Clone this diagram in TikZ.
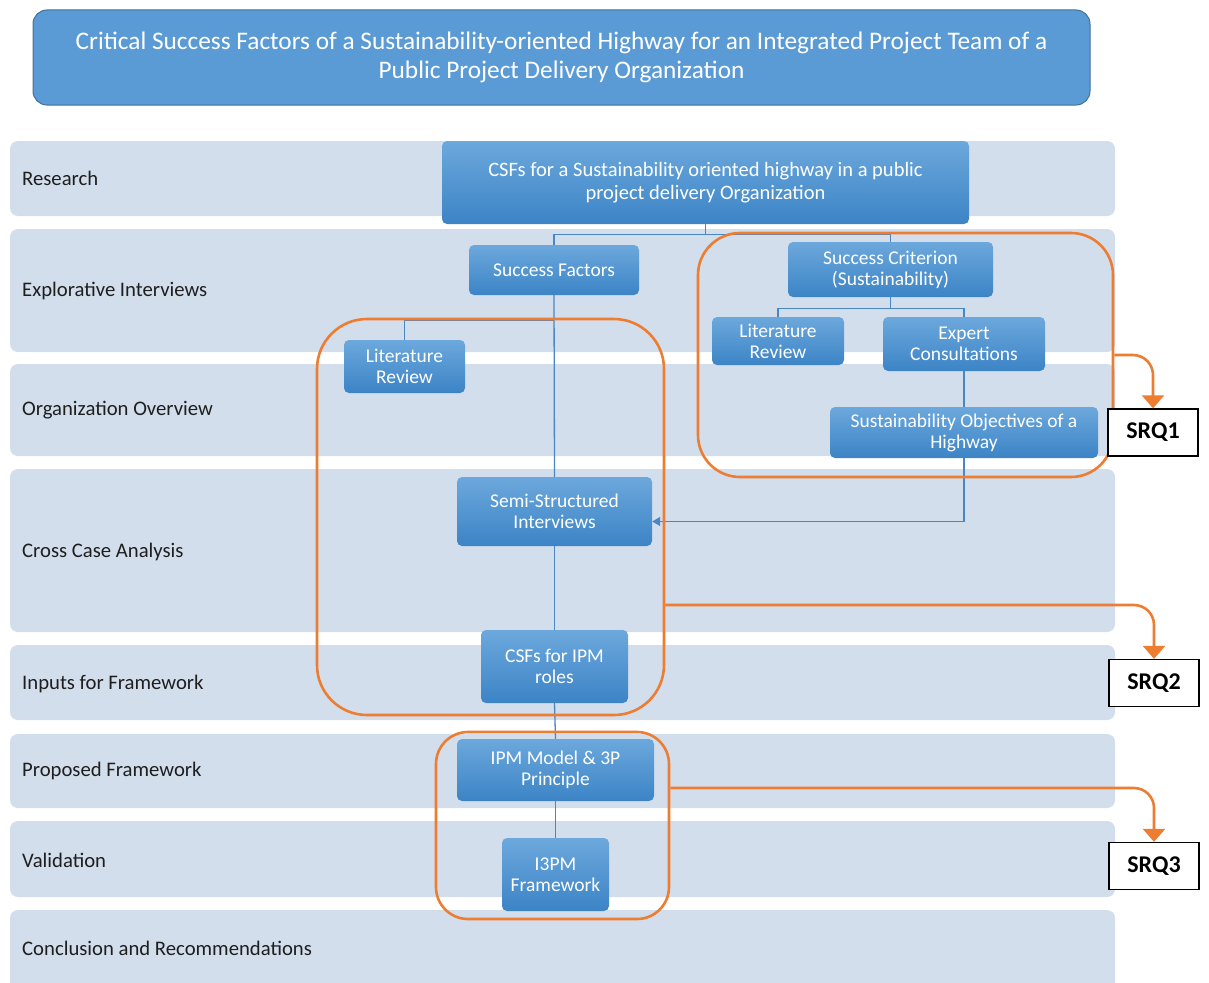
\documentclass[tikz,border=0pt]{standalone}
\usepackage{fontspec}
\setmainfont{Carlito}
\usetikzlibrary{arrows.meta,calc}
\definecolor{lanefill}{RGB}{211,222,236}
\definecolor{titlefill}{RGB}{91,155,213}
\definecolor{titleline}{RGB}{65,113,156}
\definecolor{nodetop}{RGB}{108,168,220}
\definecolor{nodebot}{RGB}{60,132,198}
\definecolor{connblue}{RGB}{74,134,193}
\definecolor{accent}{RGB}{237,125,49}
\definecolor{labeltext}{RGB}{30,30,30}
\tikzset{
  lane/.style={fill=lanefill, rounded corners=8pt, draw=none},
  lanelabel/.style={anchor=west, text=labeltext, font=\fontsize{20.7}{24}\selectfont, inner sep=0pt},
  bnode/.style={rounded corners=5pt, top color=nodetop, bottom color=nodebot, draw=none,
    text=white, align=center, font=\fontsize{19.5}{21}\selectfont, inner sep=1pt},
  conn/.style={draw=connblue, line width=1.3pt},
  groupbox/.style={draw=accent, line width=2.6pt, fill=none},
  srqbox/.style={draw=black, line width=1.3pt, fill=white, minimum width=90pt, minimum height=47pt,
    font=\bfseries\fontsize{24}{26}\selectfont, inner sep=0pt},
  srqarrow/.style={draw=accent, line width=2.6pt, rounded corners=20pt,
    -{Triangle[width=22pt,length=13pt]}},
}
\begin{document}
\begin{tikzpicture}[x=1pt,y=-1pt]
\useasboundingbox (0,0) rectangle (1209,982);

% title banner
\node[rounded corners=14pt, fill=titlefill, draw=titleline, line width=1pt,
  minimum width=1057pt, minimum height=95pt, text=white, align=center,
  font=\fontsize{25.3}{29}\selectfont] (title) at (561.5,57.5)
  {Critical Success Factors of a Sustainability-oriented Highway for an Integrated Project Team of a\\
   Public Project Delivery Organization};

% swim lanes
\fill[lane] (10,141) rectangle (1115,216);
\fill[lane] (10,229) rectangle (1115,352);
\fill[lane] (10,364) rectangle (1115,456);
\fill[lane] (10,469) rectangle (1115,632);
\fill[lane] (10,645) rectangle (1115,720);
\fill[lane] (10,734) rectangle (1115,808);
\fill[lane] (10,821) rectangle (1115,897);
\fill[lane] (10,910) rectangle (1115,995);

\node[lanelabel] (l1) at (22,178) {Research};
\node[lanelabel] (l2) at (22,291) {Explorative Interviews};
\node[lanelabel] (l3) at (22,410) {Organization Overview};
\node[lanelabel] (l4) at (22,552) {Cross Case Analysis};
\node[lanelabel] (l5) at (22,684) {Inputs for Framework};
\node[lanelabel] (l6) at (22,771) {Proposed Framework};
\node[lanelabel] (l7) at (22,860) {Validation};
\node[lanelabel] (l8) at (22,948) {Conclusion and Recommendations};

% process boxes
\node[bnode, minimum width=527pt, minimum height=83pt, font=\fontsize{20.5}{23}\selectfont] (csf) at (705.5,182.5)
  {CSFs for a Sustainability oriented  highway in a public\\ project delivery Organization};
\node[bnode, minimum width=170pt, minimum height=50pt] (sf) at (554,270) {Success Factors};
\node[bnode, minimum width=205pt, minimum height=55pt] (sc) at (890.5,269.5) {Success Criterion\\(Sustainability)};
\node[bnode, minimum width=132pt, minimum height=48pt] (lrr) at (778,341) {Literature\\Review};
\node[bnode, minimum width=162pt, minimum height=54pt] (ec) at (964,344) {Expert\\Consultations};
\node[bnode, minimum width=268pt, minimum height=51pt] (so) at (964,432.5) {Sustainability Objectives of a\\Highway};
\node[bnode, minimum width=121pt, minimum height=53pt] (lrl) at (404.5,366.5) {Literature\\Review};
\node[bnode, minimum width=195pt, minimum height=69pt] (ssi) at (554.5,511.5) {Semi-Structured\\Interviews};
\node[bnode, minimum width=147pt, minimum height=73pt] (roles) at (554.5,666.5) {CSFs for IPM\\roles};
\node[bnode, minimum width=197pt, minimum height=62pt] (ipm) at (555.5,770) {IPM Model \& 3P\\Principle};
\node[bnode, minimum width=107pt, minimum height=73pt] (i3pm) at (555.5,874.5) {I3PM\\Framework};

% connectors
\draw[conn] (csf.south) -- ++(0,10) -| (sf.north);
\draw[conn] (csf.south) -- ++(0,10) -| (sc.north);
\draw[conn] (sc.south) -- ++(0,11) -| (lrr.north);
\draw[conn] (sc.south) -- ++(0,11) -| (ec.north);
\draw[conn] (ec.south) -- (so.north);
\draw[conn] (sf.south) -- (ssi.north);
\coordinate (lrjoin) at (sf.south |- 0,320);
\draw[conn] (lrjoin) -| (lrl.north);
\draw[conn, -{Triangle[width=9pt,length=8pt]}] (so.south) |- ([yshift=-10pt]ssi.east);
\draw[conn] (ssi.south) -- (roles.north);
\draw[conn] (roles.south) -- (ipm.north);
\draw[conn] (ipm.south) -- (i3pm.north);

% groupings of steps
\node[groupbox, rounded corners=42pt, minimum width=415pt, minimum height=244pt] (g1) at (905.5,355) {};
\node[groupbox, rounded corners=50pt, minimum width=347pt, minimum height=396pt] (g2) at (490.5,517) {};
\node[groupbox, rounded corners=32pt, minimum width=233pt, minimum height=187pt] (g3) at (552.5,825.5) {};

% sub research questions
\node[srqbox] (srq1) at (1153,432.5) {SRQ1};
\node[srqbox] (srq2) at (1154,683) {SRQ2};
\node[srqbox] (srq3) at (1154,866) {SRQ3};

\draw[srqarrow] (g1.east) -| (srq1.north);
\draw[srqarrow] ([yshift=-88pt]g2.east) -| (srq2.north);
\draw[srqarrow] ([yshift=37.5pt]g3.east) -| (srq3.north);
\end{tikzpicture}
\end{document}
